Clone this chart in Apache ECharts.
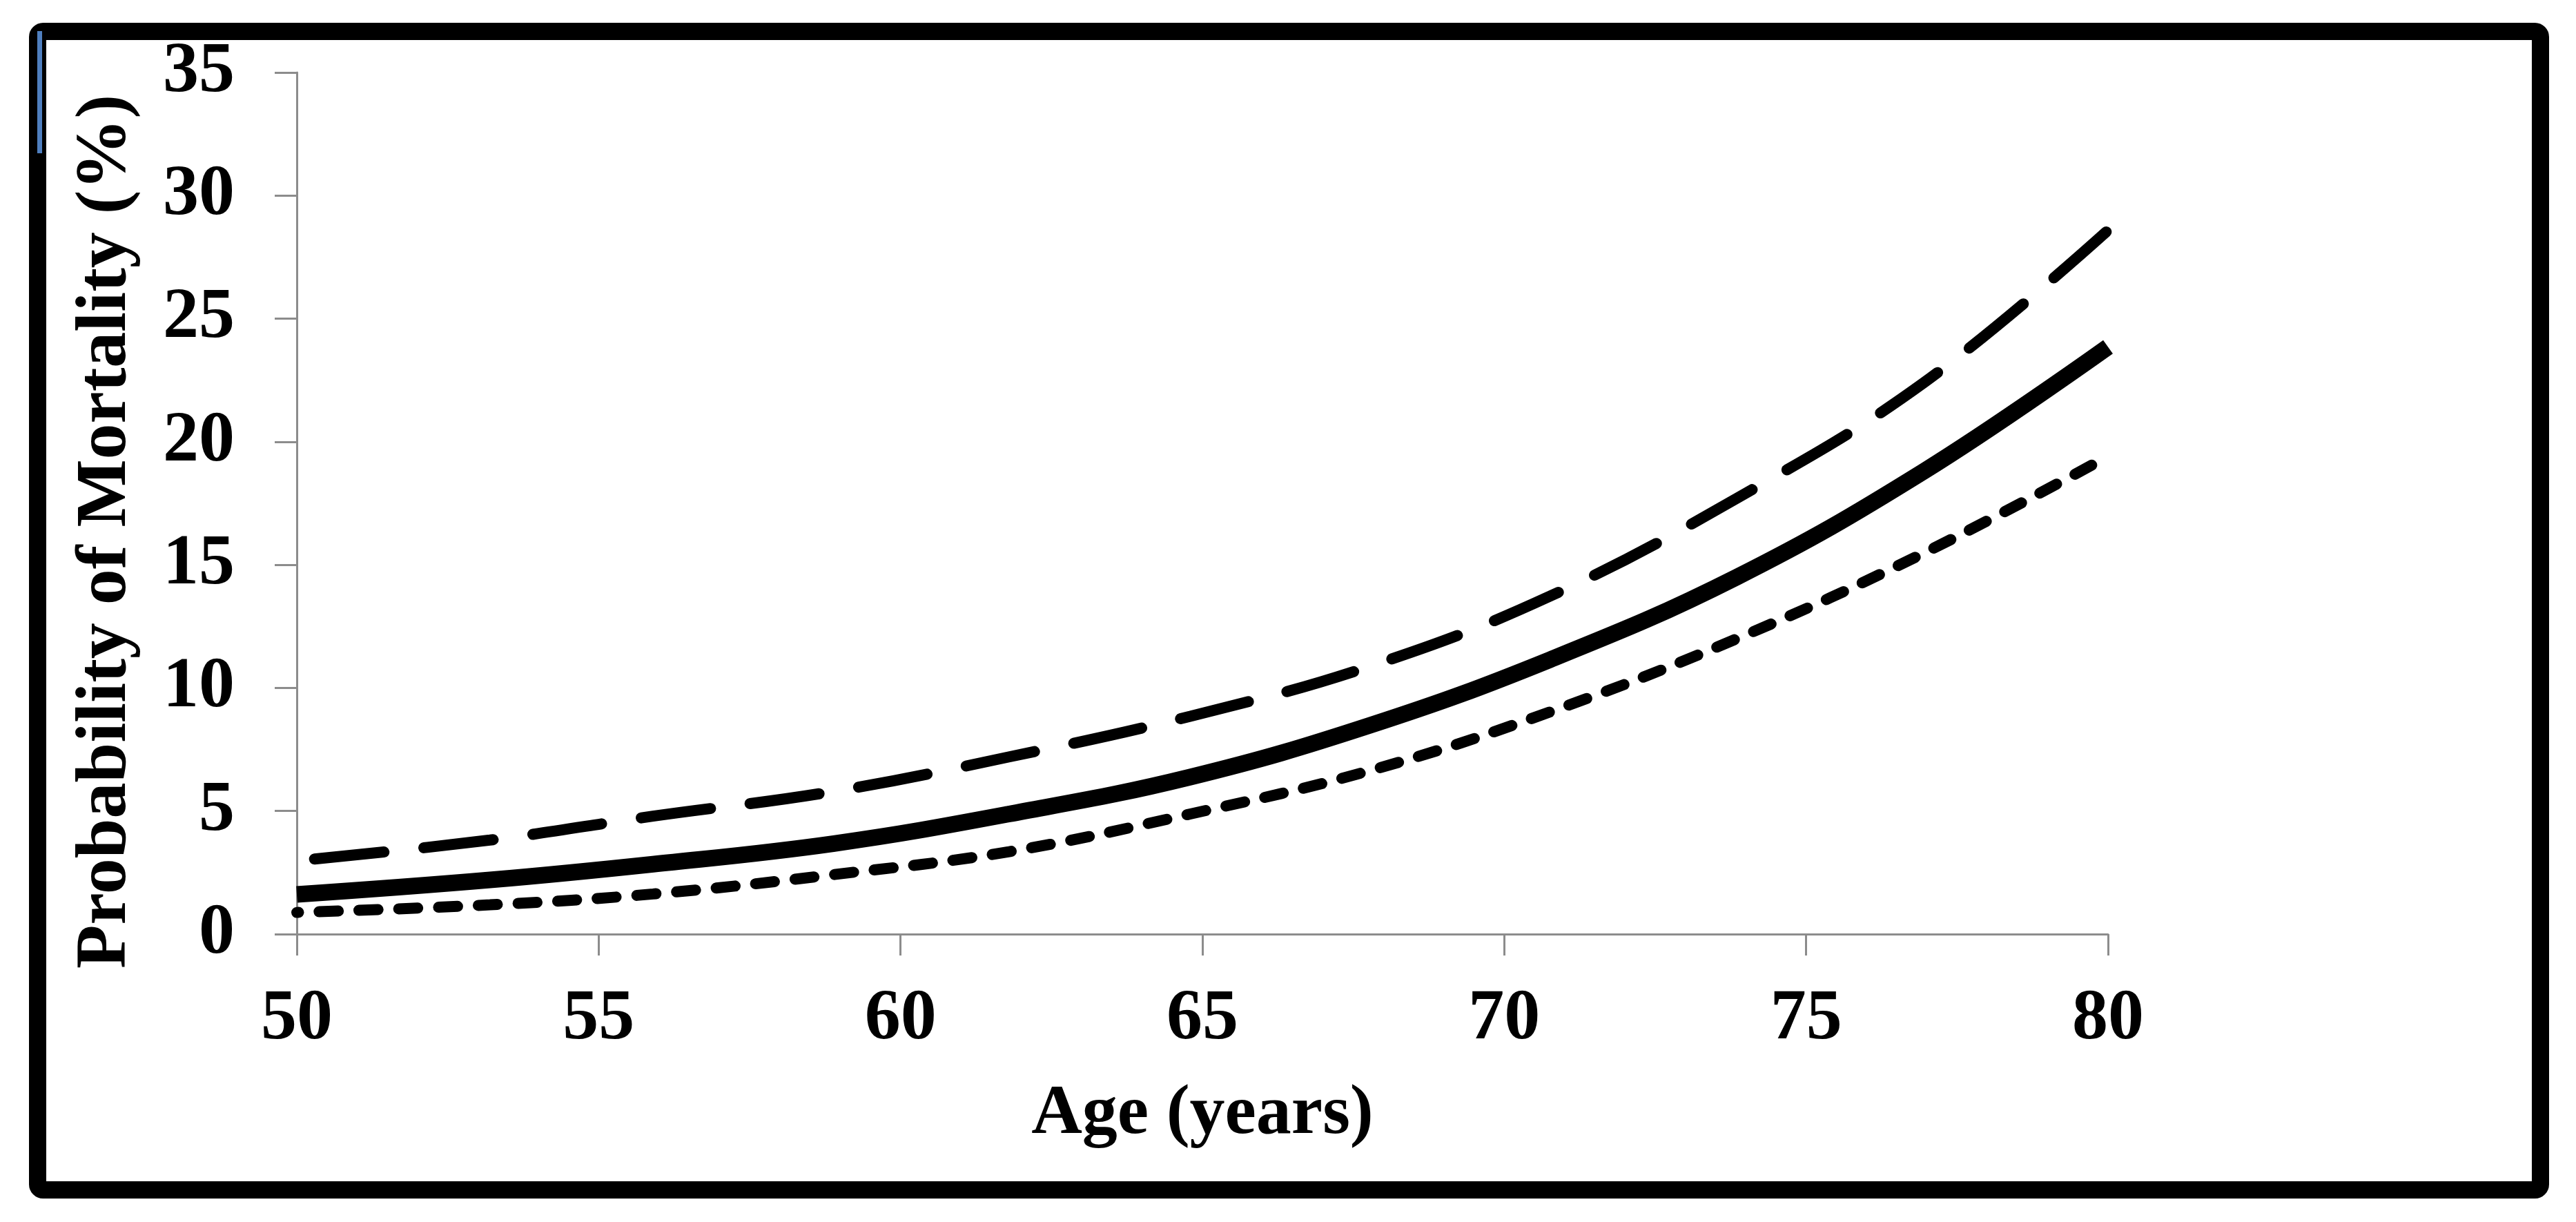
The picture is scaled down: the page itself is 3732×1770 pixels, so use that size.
<!DOCTYPE html>
<html>
<head>
<meta charset="utf-8">
<style>
  html, body { margin: 0; padding: 0; background: #fff; }
  #chart { width: 3732px; height: 1770px; }
</style>
<script src="https://cdn.jsdelivr.net/npm/echarts@6/dist/echarts.min.js"></script>
</head>
<body>
<div id="chart"></div>
<script>
// Age (years) at which each curve was read
const ages = [50, 53.2, 55.9, 58.9, 61.8, 64.8, 67.8, 70.75, 73.85, 76.95, 80];
// Probability of mortality (%) – three curves
const solidValues  = [1.61, 2.2, 2.84, 3.68, 4.88, 6.38, 8.5, 11.14, 14.5, 18.8, 23.85];
const dashedValues = [2.98, 3.82, 4.79, 5.8, 7.2, 8.85, 10.9, 13.72, 17.7, 22.4, 28.59];
const dottedValues = [0.88, 1.19, 1.63, 2.42, 3.35, 4.88, 6.66, 9.02, 12.0, 15.48, 19.41];
// axis ticks
const xTicks = [50, 55, 60, 65, 70, 75, 80];
const yTicks = [0, 5, 10, 15, 20, 25, 30, 35];
const xTitle = 'Age (years)';
const yTitle = 'Probability of Mortality (%)';

const pairs = vals => ages.map((a, i) => [a, vals[i]]);
const FONT = 'Liberation Serif';
const AXIS_COLOR = '#8c8c8c';

const chart = echarts.init(document.getElementById('chart'), null, { renderer: 'canvas' });
chart.setOption({
  animation: false,
  backgroundColor: '#ffffff',
  grid: { left: 430, right: 678, top: 105, bottom: 417, containLabel: false },
  xAxis: {
    type: 'value',
    min: xTicks[0], max: xTicks[xTicks.length - 1], interval: 5,
    splitLine: { show: false },
    axisLine: { onZero: false, lineStyle: { color: AXIS_COLOR, width: 3 } },
    axisTick: { show: true, length: 31, lineStyle: { color: AXIS_COLOR, width: 3 } },
    axisLabel: { margin: 72, color: '#000', fontFamily: FONT, fontWeight: 'bold', fontSize: 104 }
  },
  yAxis: {
    type: 'value',
    min: yTicks[0], max: yTicks[yTicks.length - 1], interval: 5,
    splitLine: { show: false },
    axisLine: { show: true, lineStyle: { color: AXIS_COLOR, width: 3 } },
    axisTick: { show: true, length: 32, lineStyle: { color: AXIS_COLOR, width: 3 } },
    axisLabel: { margin: 90, color: '#000', fontFamily: FONT, fontWeight: 'bold', fontSize: 104,
                 padding: [0, 0, 12, 0] }
  },
  series: [
    {
      name: 'upper', type: 'line', data: pairs(dashedValues), smooth: 0.4,
      showSymbol: false,
      lineStyle: { color: '#000', width: 16, type: [101, 58], dashOffset: 133, cap: 'round' }
    },
    {
      name: 'estimate', type: 'line', data: pairs(solidValues), smooth: 0.4,
      showSymbol: false,
      lineStyle: { color: '#000', width: 24, type: 'solid', cap: 'butt' }
    },
    {
      name: 'lower', type: 'line', data: pairs(dottedValues), smooth: 0.4,
      showSymbol: false,
      lineStyle: { color: '#000', width: 16, type: [27.6, 30], dashOffset: 25, cap: 'round' }
    }
  ],
  graphic: [
    {
      type: 'rect', silent: true, z: 100,
      shape: { x: 54.5, y: 45.5, width: 3626, height: 1678, r: 8 },
      style: { fill: 'none', stroke: '#000', lineWidth: 25 }
    },
    {
      type: 'rect', silent: true, z: 101,
      shape: { x: 54, y: 45, width: 7, height: 177 },
      style: { fill: '#4f7fbf' }
    },
    {
      type: 'text', z: 50, x: 1742, y: 1615,
      style: { text: xTitle, font: 'bold 102px "' + FONT + '"', fill: '#000',
               textAlign: 'center', textVerticalAlign: 'middle' }
    },
    {
      type: 'text', z: 50, x: 154, y: 770, rotation: Math.PI / 2,
      style: { text: yTitle, font: 'bold 104px "' + FONT + '"', fill: '#000',
               textAlign: 'center', textVerticalAlign: 'middle' }
    }
  ]
});
</script>
</body>
</html>
